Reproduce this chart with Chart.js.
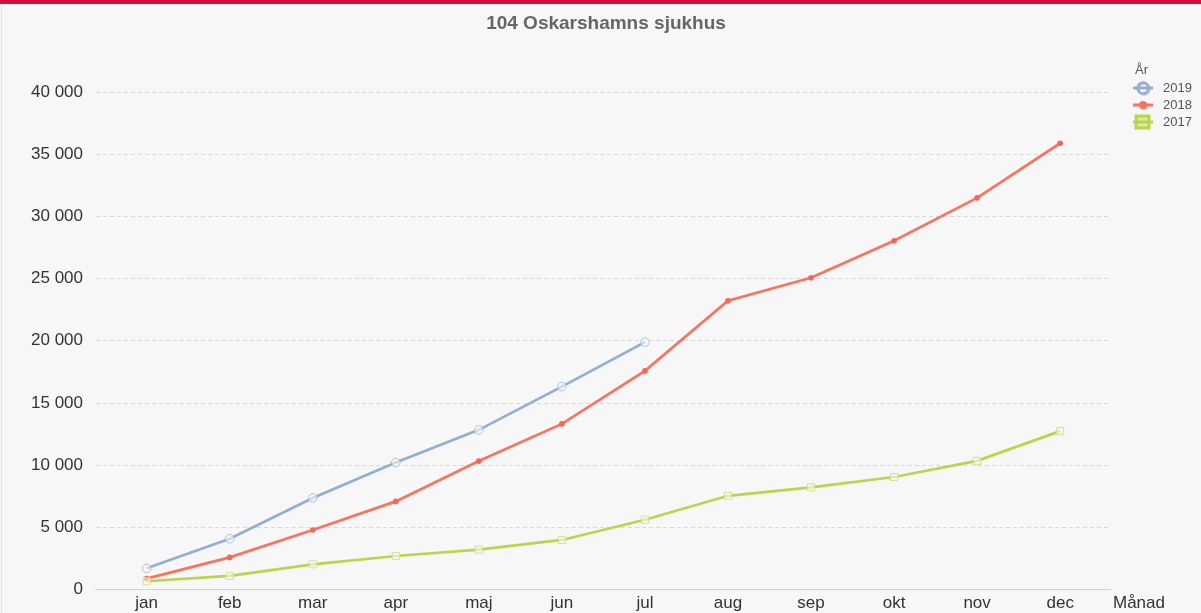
<!DOCTYPE html>
<html>
<head>
<meta charset="utf-8">
<script src="https://cdn.jsdelivr.net/npm/chart.js@4/dist/chart.umd.min.js"></script>
<style>
  html, body { margin: 0; padding: 0; background: #f7f7f7; }
  body { width: 1201px; height: 613px; position: relative; overflow: hidden;
         font-family: "Liberation Sans", Arial, sans-serif; }
  #wrap { position: absolute; left: 0; top: 0; width: 1201px; height: 613px; }
  #topbar { position: absolute; left: 0; top: 0; width: 1201px; height: 4px; background: #d0103b; }
  #edge { position: absolute; left: 1px; top: 4px; width: 1px; height: 609px; background: #e2e2e2; }
  #title { position: absolute; left: 406px; width: 400px; top: 11px; text-align: center;
           font-size: 19px; line-height: 23px; font-weight: bold; color: #666; }
  #xtitle { position: absolute; left: 1113px; top: 593px; font-size: 17px; line-height: 20px; color: #333; }
  #legend { position: absolute; left: 1131px; top: 61px; font-size: 13px; color: #555; }
  #legend .head { margin-left: 4px; height: 18px; line-height: 18px; }
  #legend .row { height: 17px; line-height: 17px; display: flex; align-items: center; }
  #legend svg { margin-right: 8px; }
</style>
</head>
<body>
<div id="wrap"><canvas id="chart"></canvas></div>
<div id="topbar"></div>
<div id="edge"></div>
<div id="title">104 Oskarshamns sjukhus</div>
<div id="xtitle">Månad</div>
<div id="legend">
  <div class="head">År</div>
  <div class="row">
    <svg width="24" height="16"><circle cx="13" cy="9" r="5.5" fill="none" stroke="#c4c4c4" stroke-width="2.5"/><line x1="2" y1="8" x2="22" y2="8" stroke="#91afd2" stroke-width="3"/><circle cx="12" cy="8" r="5.5" fill="none" stroke="#91afd2" stroke-width="2.5"/></svg>2019
  </div>
  <div class="row">
    <svg width="24" height="16"><circle cx="13" cy="9" r="4" fill="#c4c4c4"/><line x1="2" y1="8" x2="22" y2="8" stroke="#fa735f" stroke-width="3"/><circle cx="12" cy="8" r="4" fill="#fa735f"/></svg>2018
  </div>
  <div class="row">
    <svg width="24" height="16"><rect x="6" y="3" width="13" height="12" fill="#c4c4c4"/><rect x="5" y="2" width="13" height="12" fill="#dbe9a6" stroke="#b9d64b" stroke-width="3"/><line x1="2" y1="8" x2="22" y2="8" stroke="#b9d64b" stroke-width="3"/></svg>2017
  </div>
</div>
<script>
const months = ["jan", "feb", "mar", "apr", "maj", "jun", "jul", "aug", "sep", "okt", "nov", "dec"];
const years = ["2019", "2018", "2017"];
const values2019 = [1710, 4090, 7370, 10220, 12840, 16320, 19890];
const values2018 = [880, 2590, 4790, 7090, 10330, 13320, 17580, 23220, 25070, 28040, 31490, 35880];
const values2017 = [670, 1100, 2030, 2700, 3210, 3990, 5620, 7540, 8220, 9050, 10350, 12740];
const yTicks = [0, 5000, 10000, 15000, 20000, 25000, 30000, 35000, 40000];

const fontFamily = '"Liberation Sans", Arial, sans-serif';

function toPoints(arr) {
    return arr.map((v, i) => ({x: i, y: v}));
}

function formatNumber(v) {
    return String(v).replace(/\B(?=(\d{3})+(?!\d))/g, " ");
}

const ctx = document.getElementById('chart').getContext('2d');
new Chart(ctx, {
    type: 'line',
    data: {
        datasets: [
            {
                label: years[2],
                data: toPoints(values2017),
                borderColor: '#b9d64b',
                borderWidth: 2.7,
                pointStyle: 'rect',
                pointRadius: 5,
                pointBorderWidth: 1,
                pointBorderColor: '#cfe48c',
                pointBackgroundColor: 'rgba(247,247,247,0.6)',
                tension: 0
            },
            {
                label: years[1],
                data: toPoints(values2018),
                borderColor: '#fa735f',
                borderWidth: 2.7,
                pointStyle: 'circle',
                pointRadius: 2.8,
                pointBorderWidth: 0,
                pointBackgroundColor: '#f96553',
                tension: 0
            },
            {
                label: years[0],
                data: toPoints(values2019),
                borderColor: '#91afd2',
                borderWidth: 2.7,
                pointStyle: 'circle',
                pointRadius: 4.3,
                pointBorderWidth: 1,
                pointBorderColor: '#a9c0de',
                pointBackgroundColor: 'rgba(247,247,247,0.6)',
                tension: 0
            }
        ]
    },
    options: {
        responsive: true,
        maintainAspectRatio: false,
        animation: false,
        layout: {
            autoPadding: false,
            padding: {left: 18, right: 91, top: 92, bottom: -5}
        },
        scales: {
            x: {
                type: 'linear',
                min: -0.61,
                max: 11.6,
                grid: {display: false, drawTicks: false},
                border: {display: true, color: '#d2d2d2', width: 1},
                ticks: {
                    stepSize: 1,
                    includeBounds: false,
                    autoSkip: false,
                    maxRotation: 0,
                    padding: 4,
                    color: '#333',
                    font: {family: fontFamily, size: 17},
                    callback: v => months[v] !== undefined && Number.isInteger(v) ? months[v] : ''
                }
            },
            y: {
                min: 0,
                max: 40000,
                afterBuildTicks: axis => {
                    axis.ticks = yTicks.map(v => ({value: v}));
                },
                grid: {
                    drawTicks: false,
                    color: c => c.tick.value === 0 ? 'rgba(0,0,0,0)' : '#d9d9d9',
                    lineWidth: 1
                },
                border: {display: false, dash: [4, 3]},
                ticks: {
                    padding: 13,
                    color: '#333',
                    font: {family: fontFamily, size: 17},
                    callback: v => formatNumber(v)
                }
            }
        },
        plugins: {
            legend: {display: false},
            tooltip: {enabled: false},
            title: {display: false}
        }
    }
});
</script>
</body>
</html>
